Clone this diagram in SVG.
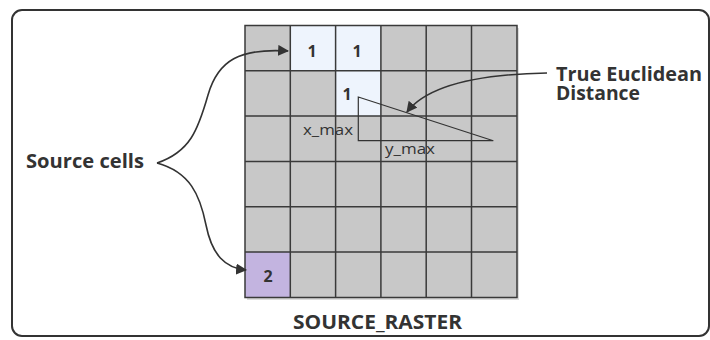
<svg xmlns="http://www.w3.org/2000/svg" width="710" height="340" viewBox="0 0 710 340">
<style>
.cell{fill:#c8c8c8;}
.src{fill:#eef4fd;}
.grid{fill:none;stroke:#3a3a3a;stroke-width:1.5;}
.lbl{font-family:"Open Sans","Noto Sans","DejaVu Sans",sans-serif;font-weight:bold;font-size:19.5px;fill:#333;}
.num{font-family:"Open Sans","Noto Sans","DejaVu Sans",sans-serif;font-weight:bold;font-size:16px;fill:#333;text-anchor:middle;}
.small{font-family:"Open Sans","Noto Sans","DejaVu Sans",sans-serif;font-size:14.5px;fill:#333;}
.conn{fill:none;stroke:#333;stroke-width:1.6;}
</style>
<defs>
<marker id="ah" viewBox="0 0 10 10" refX="9" refY="5" markerWidth="11" markerHeight="11" markerUnits="userSpaceOnUse" orient="auto">
<path d="M0,0 L10,5 L0,10 z" fill="#333"/>
</marker>
</defs>
<rect x="0" y="0" width="710" height="340" fill="#fff"/>
<rect id="frame" x="12" y="10" width="697" height="326" rx="10" ry="10" fill="#fff" stroke="#333" stroke-width="2"/>
<g id="raster">
<rect x="247" y="28" width="272" height="272" fill="#bbb" opacity="0.5"/>
<rect class="cell" x="245" y="25.5" width="272" height="272"/>
<rect class="src" x="290.3" y="25.5" width="45.3" height="45.3"/>
<rect class="src" x="335.6" y="25.5" width="45.3" height="45.3"/>
<rect class="src" x="335.6" y="70.8" width="45.3" height="45.3"/>
<rect x="245" y="252" width="45.3" height="45.5" fill="#c3b4e0"/>
<path class="grid" d="M245,25.5H517V297.5H245Z M290.3,25.5V297.5 M335.6,25.5V297.5 M380.9,25.5V297.5 M426.2,25.5V297.5 M471.5,25.5V297.5 M245,70.8H517 M245,116.1H517 M245,161.4H517 M245,206.7H517 M245,252H517"/>
</g>
<g id="values">
<text class="num" x="312" y="57">1</text>
<text class="num" x="357" y="57">1</text>
<text class="num" x="347" y="100">1</text>
<text class="num" x="268" y="282">2</text>
</g>
<g id="triangle">
<path d="M358.3,97 V140.7 H493.3 Z" fill="none" stroke="#333" stroke-width="1.2"/>
<text class="small" x="303" y="135" textLength="50" lengthAdjust="spacingAndGlyphs">x_max</text>
<text class="small" x="385" y="154" textLength="50" lengthAdjust="spacingAndGlyphs">y_max</text>
</g>
<g id="labels">
<text class="lbl" x="26" y="167.5" textLength="118" lengthAdjust="spacingAndGlyphs">Source cells</text>
<text class="lbl"><tspan x="556" y="80.5" textLength="146" lengthAdjust="spacingAndGlyphs">True Euclidean</tspan><tspan x="556" y="99.5" textLength="84" lengthAdjust="spacingAndGlyphs">Distance</tspan></text>
<text class="lbl" x="293" y="328.5" textLength="169" lengthAdjust="spacingAndGlyphs">SOURCE_RASTER</text>
</g>
<g id="connectors">
<path class="conn" marker-end="url(#ah)" d="M157,163 C190,152 198,130 208,95 C218,60 240,48 288,51"/>
<path class="conn" marker-end="url(#ah)" d="M157,163 C190,172 200,195 206,225 C212,255 225,268 246,270"/>
<path class="conn" marker-end="url(#ah)" d="M547,73 C490,74 430,82 407,112"/>
</g>
</svg>
